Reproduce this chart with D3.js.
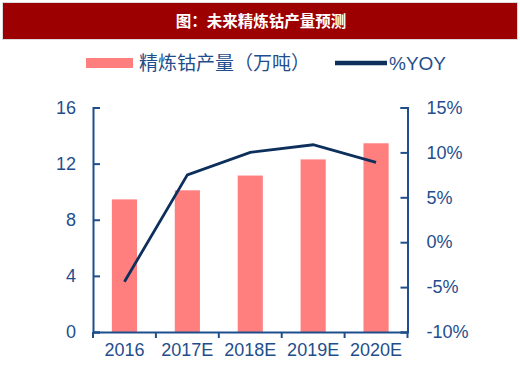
<!DOCTYPE html>
<meta charset="utf-8">
<head>
    <script src="https://d3js.org/d3.v7.min.js"></script>
    <title>未来精炼钴产量预测</title>
    <style>
        body { margin: 0; background: #fff; }
        svg { display: block; font-family: "Liberation Sans", Arial, "Noto Sans CJK SC", sans-serif; }
    </style>
</head>
<body>
    <svg width="520" height="382"></svg>
    <script>
        // chart data
        var years = ["2016", "2017E", "2018E", "2019E", "2020E"];
        var output = [9.45, 10.1, 11.15, 12.3, 13.45];   // 万吨
        var yoy = [-4.4, 7.5, 10.0, 10.85, 8.9];           // %
        var leftTicks = [0, 4, 8, 12, 16];
        var rightTicks = [-10, -5, 0, 5, 10, 15];

        var blue = "#1f4e8c",
            navy = "#0d2f5c",
            pink = "#ff7f7f";

        var svg = d3.select("svg");

        // title bar
        svg.append("rect")
            .attr("x", 2.5).attr("y", 2.5)
            .attr("width", 515).attr("height", 37)
            .attr("fill", "#9c0000")
            .attr("stroke", "#dcdcdc")
            .attr("stroke-width", 1);
        svg.append("text")
            .attr("x", 261).attr("y", 27)
            .attr("text-anchor", "middle")
            .attr("fill", "white")
            .style("font-family", "'Noto Sans CJK SC', sans-serif")
            .style("font-weight", "bold")
            .style("font-size", "15.5px")
            .text("图：未来精炼钴产量预测");

        // legend
        var legend = svg.append("g").style("font-size", "19px");
        legend.append("rect")
            .attr("x", 86).attr("y", 58).attr("width", 47).attr("height", 10)
            .attr("fill", pink);
        legend.append("text")
            .attr("x", 139).attr("y", 70)
            .attr("fill", blue)
            .style("font-family", "'Noto Sans CJK SC', sans-serif")
            .text("精炼钴产量（万吨）");
        legend.append("line")
            .attr("x1", 335).attr("x2", 387).attr("y1", 63).attr("y2", 63)
            .attr("stroke", navy).attr("stroke-width", 4.5);
        legend.append("text")
            .attr("x", 389).attr("y", 70)
            .attr("fill", blue)
            .text("%YOY");

        // scales
        var plotL = 93, plotR = 407.5, plotT = 107.5, plotB = 332;

        var x = d3.scaleBand().domain(years).range([plotL, plotR]).padding(0);
        var yL = d3.scaleLinear().domain([0, 16]).range([plotB, plotT]);
        var yR = d3.scaleLinear().domain([-10, 15]).range([plotB, plotT]);

        // bars
        var barW = x.bandwidth() * 0.4;
        svg.append("g").selectAll("rect")
            .data(years)
            .enter().append("rect")
            .attr("x", function (d) { return x(d) + x.bandwidth() / 2 - barW / 2; })
            .attr("y", function (d, i) { return yL(output[i]); })
            .attr("width", barW)
            .attr("height", function (d, i) { return plotB - yL(output[i]); })
            .attr("fill", pink);

        // axes
        function styleAxis(g) {
            g.selectAll("path, line").attr("stroke", blue).attr("stroke-width", 2);
            g.selectAll("text").attr("fill", blue).style("font-size", "18px");
        }

        svg.append("g")
            .attr("transform", "translate(" + plotL + ",0)")
            .call(d3.axisLeft(yL).tickValues(leftTicks).tickSizeInner(-7).tickSizeOuter(-7).tickPadding(17))
            .call(styleAxis);

        svg.append("g")
            .attr("transform", "translate(" + plotR + ",0)")
            .call(d3.axisRight(yR).tickValues(rightTicks).tickSizeInner(-7).tickSizeOuter(-7).tickPadding(19)
                .tickFormat(function (d) { return d + "%"; }))
            .call(styleAxis);

        var xAxis = svg.append("g")
            .attr("transform", "translate(0," + plotB + ")")
            .call(d3.axisBottom(x).tickSize(0).tickPadding(11))
            .call(styleAxis);
        // boundary ticks between categories
        xAxis.selectAll(".sep")
            .data(years.concat([null]))
            .enter().append("line")
            .attr("x1", function (d, i) { return plotL + i * x.step(); })
            .attr("x2", function (d, i) { return plotL + i * x.step(); })
            .attr("y1", 0).attr("y2", 6)
            .attr("stroke", blue).attr("stroke-width", 2);

        // yoy line
        var line = d3.line()
            .x(function (d, i) { return x(years[i]) + x.bandwidth() / 2; })
            .y(function (d) { return yR(d); });
        svg.append("path")
            .datum(yoy)
            .attr("d", line)
            .attr("fill", "none")
            .attr("stroke", navy)
            .attr("stroke-width", 2.8);
    </script>
</body>
